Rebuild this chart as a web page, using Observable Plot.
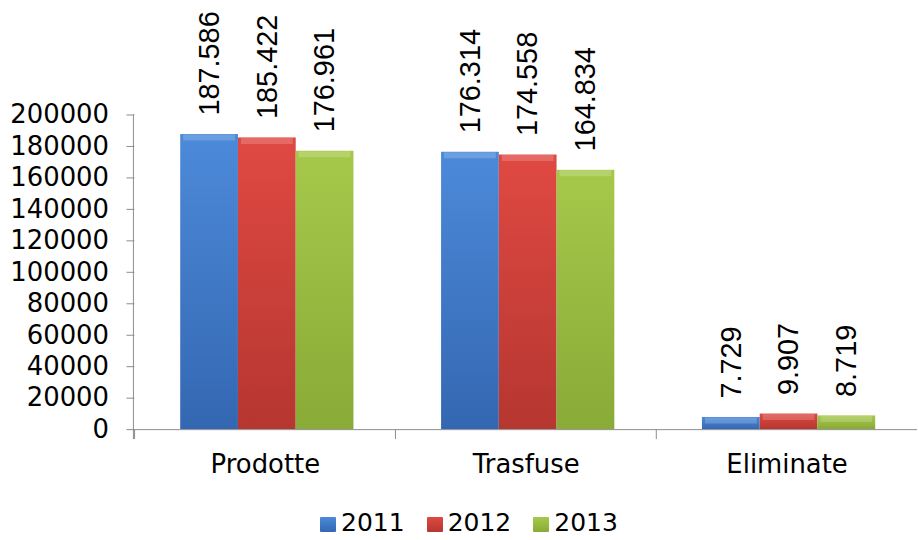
<!DOCTYPE html>
<html><head><meta charset="utf-8">
<script src="https://cdn.jsdelivr.net/npm/d3@7"></script>
<script src="https://cdn.jsdelivr.net/npm/@observablehq/plot@0.6"></script>
<style>
html,body{margin:0;padding:0;background:#fff;overflow:hidden;width:918px;height:540px}
#wrap{position:relative;width:918px;height:540px;overflow:hidden}
#chart{position:absolute;left:0;top:0}
#legend{position:absolute;left:320px;top:512px;display:flex;font-family:Verdana,"DejaVu Sans",sans-serif;font-size:25px;line-height:22px;color:#000}
.item{display:flex;align-items:flex-end;margin-right:22px}
.sw{width:16px;height:15px;margin-right:5px;margin-bottom:2px;border-radius:1px}
</style>
</head><body>
<div id="wrap"><div id="chart"></div><div id="legend"></div></div>
<script>
const categories = ["Prodotte", "Trasfuse", "Eliminate"];
const years = ["2011", "2012", "2013"];
const v2011 = [187586, 176314, 7729];
const v2012 = [185422, 174558, 9907];
const v2013 = [176961, 164834, 8719];
const yTicks = [0, 20000, 40000, 60000, 80000, 100000, 120000, 140000, 160000, 180000, 200000];
const yearColors = {
  "2011": ["#4c8ad9", "#3467b2"],
  "2012": ["#e04943", "#b63630"],
  "2013": ["#a6c84a", "#89ab37"]
};

const series = {"2011": v2011, "2012": v2012, "2013": v2013};
const rows = [];
categories.forEach((c, i) => years.forEach(y => rows.push({cat: c, year: y, value: series[y][i]})));

const itFmt = d3.formatLocale({decimal: ",", thousands: ".", grouping: [3], currency: ["", "€"]}).format(",d");

const W = 922, ML = 134, MR = 0;
const step = (W - ML - MR) / categories.length;

const chart = Plot.plot({
  width: W, height: 500,
  marginLeft: ML, marginRight: MR, marginTop: 115, marginBottom: 69,
  style: {fontFamily: "Verdana, 'DejaVu Sans', sans-serif", fontSize: "26px", color: "#000", background: "transparent", overflow: "visible"},
  fx: {domain: categories, padding: 0, label: null, axis: null},
  x: {domain: years, paddingInner: 0, paddingOuter: 0.745, align: 0.52, axis: null},
  y: {domain: [0, 200000], axis: null},
  color: {domain: years, range: years.map(y => `url(#g${y})`)},
  marks: [
    Plot.barY(rows, {fx: "cat", x: "year", y: "value", fill: "year"}),
    Plot.tickY(rows, {fx: "cat", x: "year", y: "value", stroke: "white", strokeOpacity: 0.18, strokeWidth: 6, dy: 3, inset: 3}),
    Plot.text(rows, {fx: "cat", x: "year", y: "value", text: d => itFmt(d.value), rotate: -90, textAnchor: "start", lineAnchor: "middle", dy: -19, fontFamily: "'Liberation Sans', Arial, sans-serif", fontSize: 29, fill: "#000"}),
    Plot.ruleY([0], {stroke: "#8c8c8c"}),
    Plot.axisY({ticks: yTicks, tickFormat: d => String(d), tickSize: 8, tickPadding: 18, stroke: "#8c8c8c", fill: "#000", label: null}),
    Plot.axisFx({anchor: "bottom", tickSize: 0, tickPadding: 25, label: null, fill: "#000"}),
    Plot.axisFx({anchor: "bottom", tickSize: 10, tickFormat: () => "", dx: -step / 2, stroke: "#8c8c8c", label: null})
  ]
});

const svg = d3.select(chart);
const defs = svg.insert("defs", ":first-child");
years.forEach(y => {
  const g = defs.append("linearGradient").attr("id", "g" + y).attr("x1", 0).attr("y1", 0).attr("x2", 0).attr("y2", 1);
  g.append("stop").attr("offset", "0%").attr("stop-color", yearColors[y][0]);
  g.append("stop").attr("offset", "100%").attr("stop-color", yearColors[y][1]);
});
// y axis line, from the library's own scales
const ys = chart.scale("y");
svg.append("line")
  .attr("x1", ML).attr("x2", ML)
  .attr("y1", ys.apply(yTicks[yTicks.length - 1]))
  .attr("y2", ys.apply(0) + 10)
  .attr("stroke", "#8c8c8c");
document.getElementById("chart").appendChild(chart);

const legend = d3.select("#legend");
years.forEach(y => {
  const it = legend.append("div").attr("class", "item");
  it.append("div").attr("class", "sw").style("background", `linear-gradient(${yearColors[y][0]}, ${yearColors[y][1]})`);
  it.append("span").text(y);
});
</script>
</body></html>
